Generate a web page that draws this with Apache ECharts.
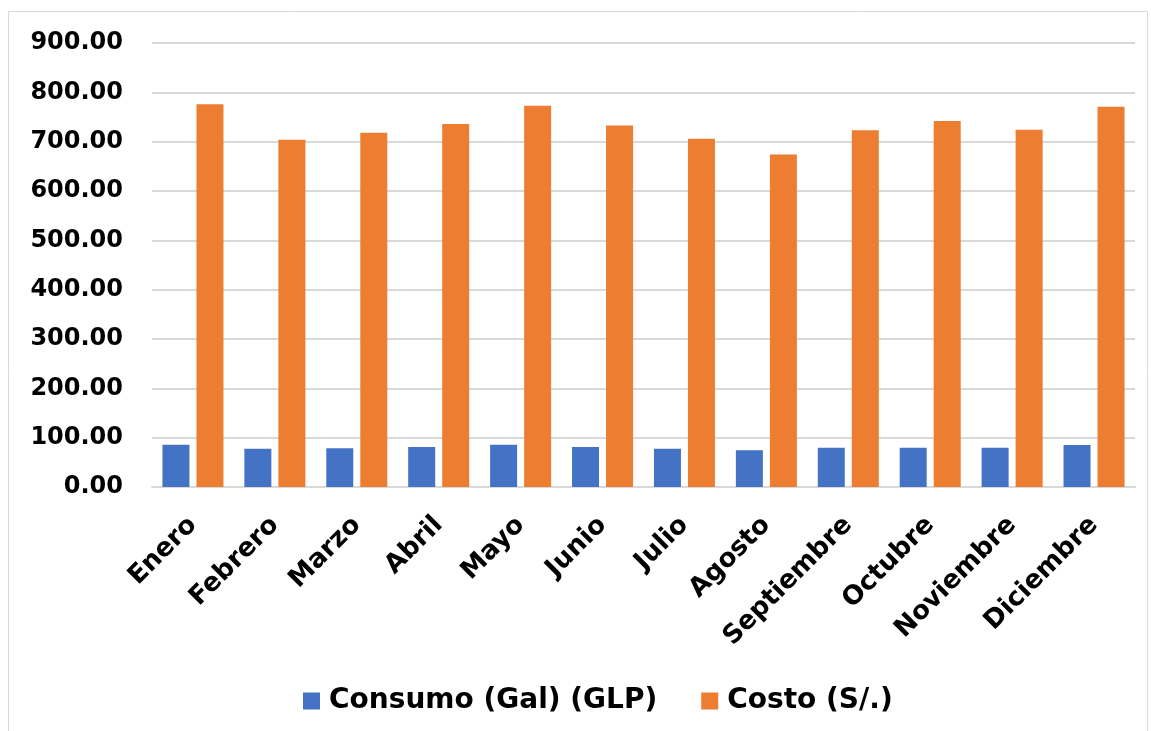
<!DOCTYPE html>
<html>
<head>
<meta charset="utf-8">
<script src="https://cdn.jsdelivr.net/npm/echarts@6/dist/echarts.min.js"></script>
<style>
  html, body { margin: 0; padding: 0; background: #fff; }
  #chart { width: 1151px; height: 731px; }
</style>
</head>
<body>
<div id="chart"></div>
<script>
const months = ['Enero', 'Febrero', 'Marzo', 'Abril', 'Mayo', 'Junio', 'Julio', 'Agosto', 'Septiembre', 'Octubre', 'Noviembre', 'Diciembre'];
const consumo = [85.8, 77.7, 78.3, 81.0, 85.8, 81.0, 77.7, 74.3, 79.7, 79.7, 79.7, 85.0];
const costo = [776, 704, 718, 736, 773, 733, 706, 674, 723, 742, 724, 771];
const yTicks = { min: 0, max: 900, interval: 100 };

// the reference text is wide, DejaVu Sans Bold matches its extent best
const font = 'DejaVu Sans, sans-serif';
const chart = echarts.init(document.getElementById('chart'));
chart.setOption({
  animation: false,
  color: ['#4472C4', '#ED7D31'],
  graphic: [{
    type: 'rect',
    shape: { x: 8.5, y: 11.5, width: 1139, height: 730 },
    style: { fill: 'none', stroke: '#d9d9d9', lineWidth: 1 },
    silent: true
  }],
  grid: { left: 152, right: 16, top: 43, bottom: 244 },
  legend: {
    top: 682,
    left: 298,
    itemWidth: 17,
    itemHeight: 17,
    itemGap: 44,
    icon: 'rect',
    textStyle: {
      fontFamily: font, fontWeight: 'bold', fontSize: 28, color: '#000',
      lineHeight: 28, padding: [0, 0, 0, 4]
    },
    data: ['Consumo (Gal) (GLP)', 'Costo (S/.)']
  },
  xAxis: {
    type: 'category',
    data: months,
    axisLine: { lineStyle: { color: '#d9d9d9', width: 2 } },
    axisTick: { show: false },
    axisLabel: {
      interval: 0,
      rotate: 45,
      margin: 34,
      fontFamily: font,
      fontWeight: 'bold',
      fontSize: 26,
      color: '#000'
    }
  },
  yAxis: {
    type: 'value',
    min: yTicks.min,
    max: yTicks.max,
    interval: yTicks.interval,
    axisLine: { show: false },
    axisTick: { show: false },
    splitLine: { lineStyle: { color: '#d9d9d9', width: 2 } },
    axisLabel: {
      margin: 29,
      fontFamily: font,
      fontWeight: 'bold',
      fontSize: 24,
      color: '#000',
      formatter: v => v.toFixed(2)
    }
  },
  series: [
    {
      name: 'Consumo (Gal) (GLP)',
      type: 'bar',
      data: consumo,
      barWidth: 27,
      barGap: '26%'
    },
    {
      name: 'Costo (S/.)',
      type: 'bar',
      data: costo,
      barWidth: 27,
      barGap: '26%'
    }
  ]
});
</script>
</body>
</html>
